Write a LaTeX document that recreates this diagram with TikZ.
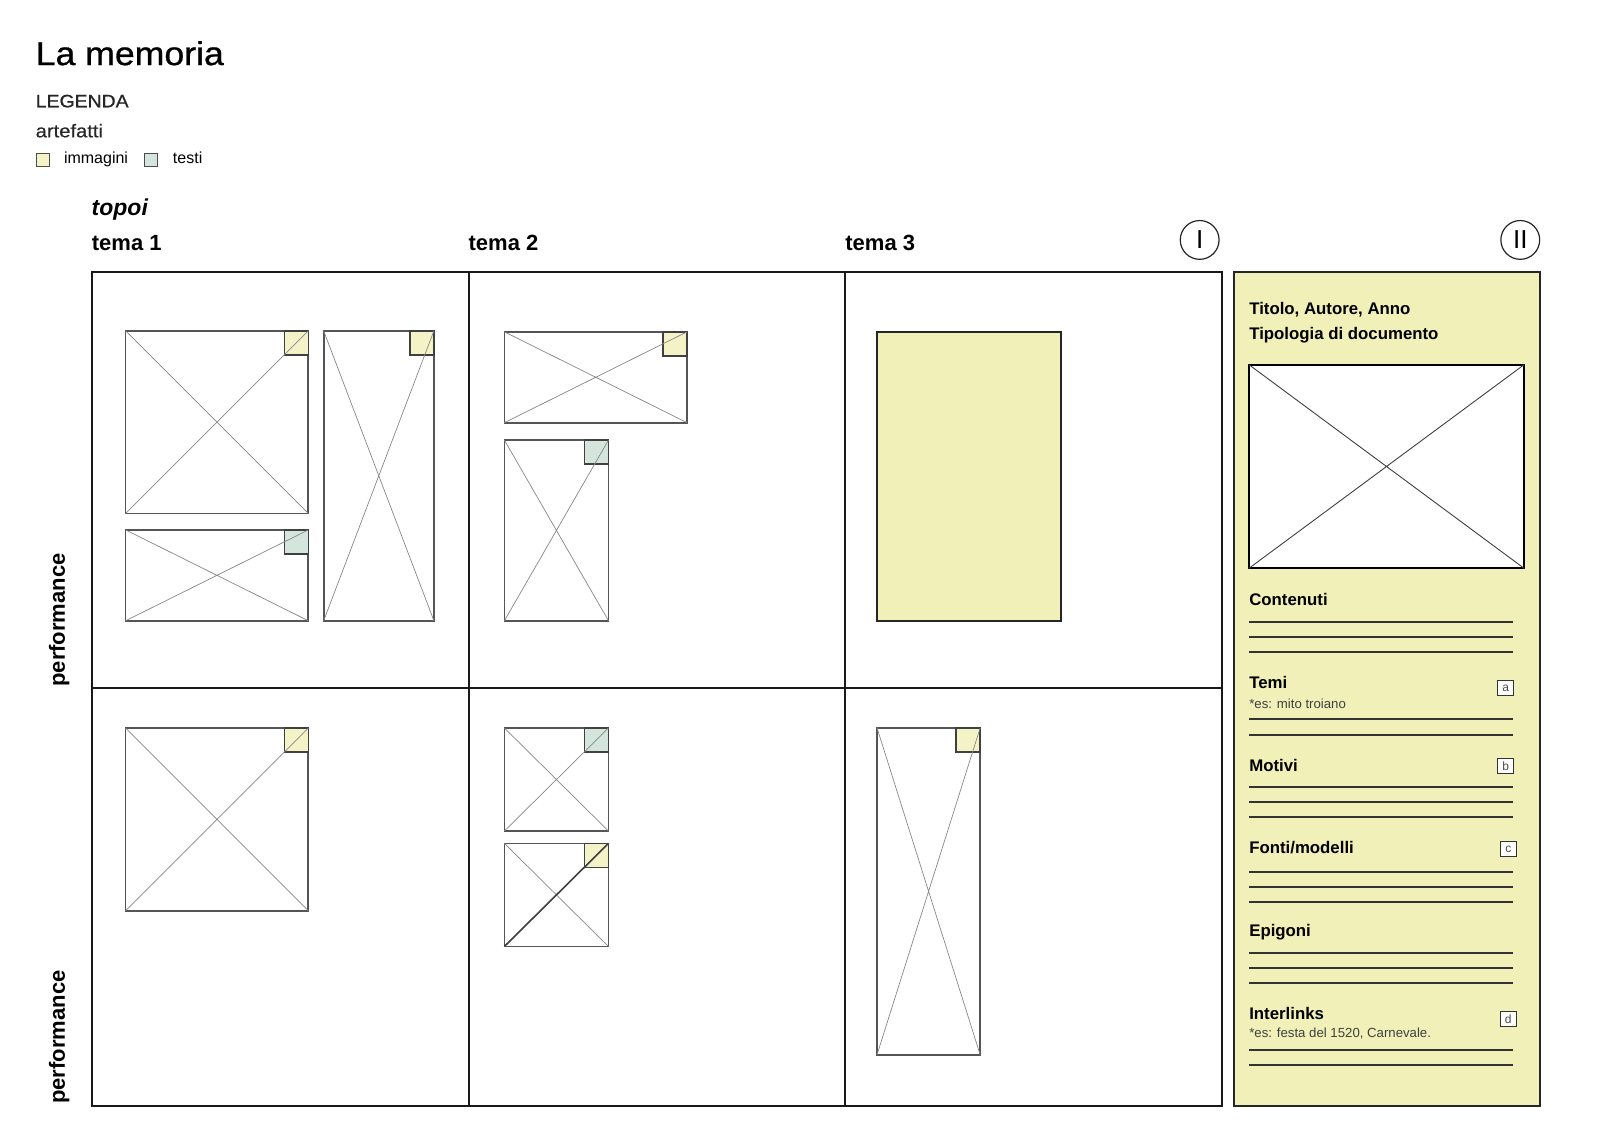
\documentclass[tikz,border=0pt]{standalone}
\usepackage{fontspec}
\setmainfont{Liberation Sans}
\newfontfamily\widefont[FakeStretch=1.08, FakeBold=0.8]{Liberation Sans}
\newfontfamily\widelight[FakeStretch=1.09, FakeBold=0.3]{Liberation Sans}
\usetikzlibrary{fit,positioning}

\definecolor{memyellow}{RGB}{240,240,184}
\definecolor{tagyellow}{RGB}{244,243,200}
\definecolor{tagteal}{RGB}{212,229,222}
\definecolor{wireline}{RGB}{85,85,85}
\definecolor{crossline}{RGB}{135,135,135}

\newcommand{\fsz}[1]{\fontsize{#1}{#1}\selectfont}
% thumbnail: name, x1, y1, x2, y2, tag colour
\newcommand{\thumbbox}[6]{%
  \node[thumb, fit={(#2,#3) (#4,#5)}] (#1) {};
  \node[tag, fill=#6] (#1t) at (#1.north east) {};
  \draw[cross] (#1.north west) -- (#1.south east) (#1.south west) -- (#1.north east);}

\begin{document}
\begin{tikzpicture}[x=1.021pt, y=-1.021pt]
\tikzstyle{thumb}=[draw=wireline, fill=white, line width=1.7pt, inner sep=0, outer sep=0]
\tikzstyle{cross}=[draw=crossline, line width=0.7pt]
\tikzstyle{tag}=[draw=black!75, line width=1.4pt, minimum size=24pt, inner sep=0, outer sep=0, anchor=north east]
\tikzstyle{txt}=[anchor=base west, inner sep=0, outer sep=0]
\tikzstyle{head}=[txt, font=\fsz{16.8}\bfseries]
\tikzstyle{note}=[txt, font=\fsz{13.2}, text=black!75]
\tikzstyle{letter}=[draw=black!80, fill=white, line width=0.9pt, minimum size=15.5pt, inner sep=0, font=\fsz{12}, text=black!70]
\tikzstyle{roman}=[circle, draw=black!85, line width=1.2pt, minimum size=38.8pt, inner sep=0, font=\fsz{26}]
\tikzstyle{legsq}=[draw=black!70, line width=1pt, minimum size=13pt, inner sep=0, anchor=north west]
\tikzstyle{formline}=[draw=black!80, line width=1.9pt]

\fill[white] (0,0) rectangle (1567.1,1108.7);
\useasboundingbox (0,0) rectangle (1567.1,1108.7);

% heading and legend
\node[txt, font=\widefont\fsz{33}] (title) at (35,63.7) {La memoria};
\node[txt, font=\widefont\fsz{18}, text=black!85] (legenda) at (35,105.1) {LEGENDA};
\node[txt, font=\widelight\fsz{18.5}, text=black!85] (artefatti) at (35,134.5) {artefatti};
\node[legsq, fill=tagyellow] (sqimg) at (35.3,149.6) {};
\node[txt, font=\fsz{16}] (immagini) at (62.7,160.6) {immagini};
\node[legsq, fill=tagteal] (sqtxt) at (141,149.6) {};
\node[txt, font=\fsz{16}] (testi) at (169.4,160.6) {testi};

\node[txt, font=\fsz{23}\bfseries\itshape] (topoi) at (89.8,210.6) {topoi};
\node[txt, font=\fsz{22}\bfseries] (tema1) at (90,245) {tema 1};
\node[txt, font=\fsz{22}\bfseries] (tema2) at (459,245) {tema 2};
\node[txt, font=\fsz{22}\bfseries] (tema3) at (828,245) {tema 3};
\node[roman] (romI) at (1175,235) {I};
\node[roman] (romII) at (1489,235) {II};

\node[txt, rotate=90, font=\fsz{22}\bfseries] (perf1) at (63.5,672.5) {performance};
\node[txt, rotate=90, font=\fsz{22}\bfseries] (perf2) at (63.5,1081) {performance};

% grid
\draw[line width=2pt, draw=black!90] (90,266) rectangle (1197,1083)
  (459,266) -- (459,1083) (828,266) -- (828,1083) (90,674) -- (1197,674);

% artefatti
\thumbbox{a1}{123}{324}{302}{503}{tagyellow}
\thumbbox{a2}{123}{519}{302}{608}{tagteal}
\thumbbox{a3}{317}{324}{425}{608}{tagyellow}
\thumbbox{b1}{494}{325}{673}{414}{tagyellow}
\thumbbox{b2}{494}{431}{596}{608}{tagteal}
\node[fit={(859,325) (1039,608)}, draw=black!85, fill=memyellow, line width=1.8pt, inner sep=0, outer sep=0] (c1) {};
\thumbbox{d1}{123}{713}{302}{892}{tagyellow}
\thumbbox{e1}{494}{713}{596}{814}{tagteal}
\thumbbox{e2}{494}{826}{596}{927}{tagyellow}
\draw[draw=black!75, line width=1.6pt] (e2.south west) -- (e2.north east);
\thumbbox{f1}{859}{713}{960}{1033}{tagyellow}

% scheda
\node[fit={(1209,266) (1508,1083)}, draw=black!85, fill=memyellow, line width=2pt, inner sep=0, outer sep=0] (side) {};
\node[head] (titolo) at (1223.6,307.9) {Titolo, Autore, Anno};
\node[head] (tipo) at (1223.6,333) {Tipologia di documento};
\node[fit={(1223.3,357.2) (1492.7,556.6)}, draw=black, fill=white, line width=1.8pt, inner sep=0, outer sep=0] (pic) {};
\draw[black!75, line width=0.9pt] (pic.north west) -- (pic.south east) (pic.south west) -- (pic.north east);

\node[head] (contenuti) at (1223.6,593.5) {Contenuti};
\node[head] (temi) at (1223.6,674.2) {Temi};
\node[note] (temies) at (1223.6,693.8) {*es: mito troiano};
\node[head] (motivi) at (1223.6,755.8) {Motivi};
\node[head] (fonti) at (1223.6,835.8) {Fonti/modelli};
\node[head] (epigoni) at (1223.6,917.4) {Epigoni};
\node[head] (inter) at (1223.6,998.4) {Interlinks};
\node[note] (interes) at (1223.6,1016) {*es: festa del 1520, Carnevale.};

\node[letter] (la) at (1474.7,674) {a};
\node[letter] (lb) at (1474.7,750) {b};
\node[letter] (lc) at (1477.3,831.7) {c};
\node[letter] (ld) at (1477.3,998) {d};

\foreach \y in {608.9,623.9,638.9,704.5,719.6,770.5,785.2,800.2,853.7,868.8,883.8,933.1,948.1,963.1,1028.1,1043.1}
  \draw[formline] (1223.3,\y) -- (1482.2,\y);

\end{tikzpicture}
\end{document}
